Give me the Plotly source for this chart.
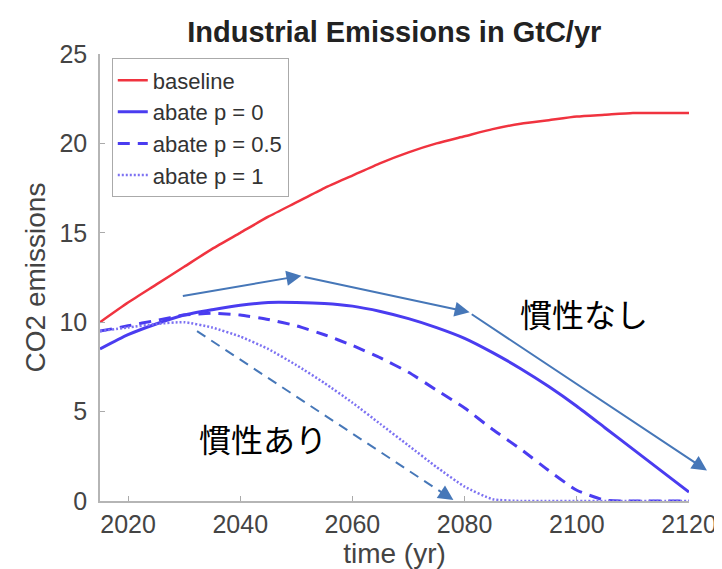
import plotly.graph_objects as go

years = list(range(2015, 2125, 5))
baseline = [10.0, 11.1, 12.1, 13.1, 14.1, 15.0, 15.9, 16.7, 17.5, 18.2, 18.9, 19.5, 20.0,
            20.4, 20.8, 21.1, 21.3, 21.5, 21.6, 21.7, 21.7, 21.7]
abate_p0 = [8.5, 9.3, 9.9, 10.4, 10.7, 10.95, 11.1, 11.1, 11.05, 10.9, 10.6, 10.2, 9.7,
            9.1, 8.3, 7.4, 6.4, 5.3, 4.1, 2.9, 1.7, 0.5]
abate_p05 = [9.5, 9.8, 10.1, 10.4, 10.5, 10.4, 10.15, 9.8, 9.3, 8.7, 8.0, 7.2, 6.2,
             5.2, 4.0, 2.9, 1.7, 0.6, 0.05, 0.0, 0.0, 0.0]
abate_p1 = [9.5, 9.7, 9.9, 10.0, 9.7, 9.2, 8.5, 7.6, 6.6, 5.5, 4.3, 3.1, 1.9,
            0.8, 0.1, 0.0, 0.0, 0.0, 0.0, 0.0, 0.0, 0.0]

x_ticks = [2020, 2040, 2060, 2080, 2100, 2120]
y_ticks = [0, 5, 10, 15, 20, 25]
X_RANGE = [2015, 2120]
Y_RANGE = [0, 25]

# annotation arrows (data units): tail -> head
arrows_solid = [((2029.5, 11.45), (2050.9, 12.6)),
                ((2051.2, 12.55), (2080.9, 10.55)),
                ((2081.0, 10.5), (2123.2, 1.7))]
arrow_dashed = ((2032.3, 9.5), (2078.0, 0.05))
labels = [("慣性なし", 2101.3, 10.5), ("慣性あり", 2044.1, 3.5)]

RED = "#f0333f"
BLUE = "#4a3cf0"
ARROW = "#4677b8"
FONT = "Liberation Sans, Arial, sans-serif"


def px(x):
    return (x - X_RANGE[0]) / (X_RANGE[1] - X_RANGE[0])


def py(y):
    return (y - Y_RANGE[0]) / (Y_RANGE[1] - Y_RANGE[0])


fig = go.Figure()
fig.add_trace(go.Scatter(x=years, y=baseline, name="baseline", mode="lines",
                         line=dict(color=RED, width=2.5, shape="spline", smoothing=0.6),
                         cliponaxis=False))
fig.add_trace(go.Scatter(x=years, y=abate_p0, name="abate p = 0", mode="lines",
                         line=dict(color=BLUE, width=3, shape="spline", smoothing=0.6),
                         cliponaxis=False))
fig.add_trace(go.Scatter(x=years, y=abate_p05, name="abate p = 0.5", mode="lines",
                         line=dict(color=BLUE, width=3, dash="12px,8px", shape="spline", smoothing=0.5),
                         cliponaxis=False))
fig.add_trace(go.Scatter(x=years, y=abate_p1, name="abate p = 1", mode="lines",
                         line=dict(color="#7d72f2", width=2.5, dash="2px,2px", shape="spline", smoothing=0.5),
                         cliponaxis=False))

DREF = dict(xref="x domain", yref="y domain", axref="x domain", ayref="y domain")
annotations = []
for (t, h) in arrows_solid:
    annotations.append(dict(x=px(h[0]), y=py(h[1]), ax=px(t[0]), ay=py(t[1]), **DREF,
                            text="", showarrow=True, arrowhead=2, arrowsize=1.5,
                            arrowwidth=2, arrowcolor=ARROW))
(t, h) = arrow_dashed
frac = 0.95
annotations.append(dict(x=px(h[0]), y=py(h[1]),
                        ax=px(t[0] + (h[0] - t[0]) * frac), ay=py(t[1] + (h[1] - t[1]) * frac),
                        **DREF, text="", showarrow=True, arrowhead=2, arrowsize=1.5,
                        arrowwidth=2, arrowcolor=ARROW))
for (txt, lx, ly) in labels:
    annotations.append(dict(x=lx, y=ly, xref="x", yref="y", text=txt, showarrow=False,
                            font=dict(family="Noto Sans CJK JP", size=32, color="#000000"),
                            xanchor="center", yanchor="middle"))

shapes = [dict(type="line", xref="x domain", yref="y domain",
               x0=px(t[0]), y0=py(t[1]),
               x1=px(t[0] + (h[0] - t[0]) * 0.96), y1=py(t[1] + (h[1] - t[1]) * 0.96),
               line=dict(color=ARROW, width=2, dash="10px,7px"))]

fig.update_layout(
    width=722, height=569,
    margin=dict(l=92, r=41, t=46, b=76),
    paper_bgcolor="white", plot_bgcolor="white",
    font=dict(family=FONT, color="#444444"),
    title=dict(text="<b>Industrial Emissions in GtC/yr</b>", x=0.535, xanchor="center",
               y=0.958, yanchor="middle", font=dict(size=29, color="#222222", family=FONT)),
    showlegend=True,
    legend=dict(x=0.02, y=0.99, xanchor="left", yanchor="top",
                bgcolor="white", bordercolor="#aaaaaa", borderwidth=1,
                font=dict(size=22, color="#333333", family=FONT),
                tracegroupgap=0, itemwidth=30),
    annotations=annotations,
    shapes=shapes,
)
fig.update_xaxes(range=X_RANGE, tickvals=x_ticks, ticks="inside", ticklen=5,
                 tickcolor="#aaaaaa", showline=True, linecolor="#b5b5b5", linewidth=1.5,
                 showgrid=False, zeroline=False,
                 tickfont=dict(size=25, color="#444444"),
                 title=dict(text="time (yr)", font=dict(size=28, color="#444444"), standoff=6))
fig.update_yaxes(range=Y_RANGE, tickvals=y_ticks, ticks="inside", ticklen=5,
                 tickcolor="#aaaaaa", showline=True, linecolor="#b5b5b5", linewidth=1.5,
                 showgrid=False, zeroline=False, ticklabelstandoff=6,
                 tickfont=dict(size=25, color="#444444"),
                 title=dict(text="CO2 emissions", font=dict(size=28, color="#444444"), standoff=6))

fig.write_html("out.html")
